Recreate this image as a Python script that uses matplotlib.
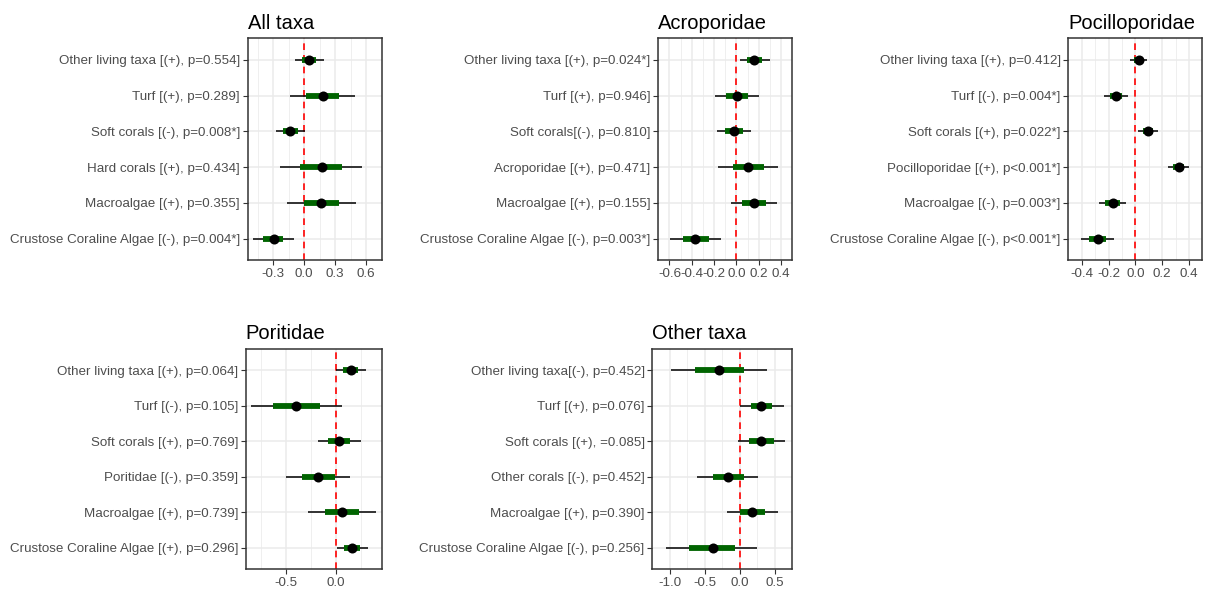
import matplotlib
matplotlib.use("Agg")
import matplotlib.pyplot as plt
import numpy as np

plt.rcParams['font.family'] = ['Liberation Sans', 'DejaVu Sans']

W, H = 1211, 592

# ---------------- data (rows listed top to bottom) ----------------
titles = ["All taxa", "Acroporidae", "Pocilloporidae", "Poritidae", "Other taxa"]

labels_all = ["Other living taxa [(+), p=0.554]", "Turf [(+), p=0.289]",
              "Soft corals [(-), p=0.008*]", "Hard corals [(+), p=0.434]",
              "Macroalgae [(+), p=0.355]", "Crustose Coraline Algae [(-), p=0.004*]"]
est_all = [0.051, 0.180, -0.134, 0.169, 0.166, -0.294]
lo50_all = [-0.023, 0.017, -0.200, -0.040, 0.000, -0.397]
hi50_all = [0.114, 0.337, -0.063, 0.366, 0.337, -0.200]
lo95_all = [-0.091, -0.137, -0.271, -0.231, -0.169, -0.491]
hi95_all = [0.189, 0.494, 0.006, 0.557, 0.503, -0.100]

labels_acro = ["Other living taxa [(+), p=0.024*]", "Turf [(+), p=0.946]",
               "Soft corals[(-), p=0.810]", "Acroporidae [(+), p=0.471]",
               "Macroalgae [(+), p=0.155]", "Crustose Coraline Algae [(-), p=0.003*]"]
est_acro = [0.159, 0.008, -0.026, 0.100, 0.159, -0.370]
lo50_acro = [0.098, -0.092, -0.100, -0.034, 0.053, -0.481]
hi50_acro = [0.225, 0.106, 0.058, 0.243, 0.264, -0.248]
lo95_acro = [0.034, -0.193, -0.177, -0.169, -0.048, -0.594]
hi95_acro = [0.296, 0.203, 0.132, 0.375, 0.365, -0.140]

labels_poci = ["Other living taxa [(+), p=0.412]", "Turf [(-), p=0.004*]",
               "Soft corals [(+), p=0.022*]", "Pocilloporidae [(+), p<0.001*]",
               "Macroalgae [(-), p=0.003*]", "Crustose Coraline Algae [(-), p<0.001*]"]
est_poci = [0.026, -0.143, 0.092, 0.323, -0.169, -0.281]
lo50_poci = [-0.011, -0.191, 0.055, 0.279, -0.224, -0.345]
hi50_poci = [0.059, -0.099, 0.132, 0.363, -0.116, -0.220]
lo95_poci = [-0.037, -0.235, 0.018, 0.242, -0.270, -0.407]
hi95_poci = [0.084, -0.055, 0.171, 0.402, -0.066, -0.158]

labels_pori = ["Other living taxa [(+), p=0.064]", "Turf [(-), p=0.105]",
               "Soft corals [(+), p=0.769]", "Poritidae [(-), p=0.359]",
               "Macroalgae [(+), p=0.739]", "Crustose Coraline Algae [(+), p=0.296]"]
est_pori = [0.147, -0.397, 0.033, -0.177, 0.057, 0.157]
lo50_pori = [0.073, -0.627, -0.077, -0.340, -0.110, 0.080]
hi50_pori = [0.223, -0.160, 0.140, -0.010, 0.230, 0.240]
lo95_pori = [0.000, -0.850, -0.177, -0.500, -0.277, 0.007]
hi95_pori = [0.297, 0.063, 0.247, 0.140, 0.397, 0.317]

labels_oth = ["Other living taxa[(-), p=0.452]", "Turf [(+), p=0.076]",
              "Soft corals [(+), =0.085]", "Other corals [(-), p=0.452]",
              "Macroalgae [(+), p=0.390]", "Crustose Coraline Algae [(-), p=0.256]"]
est_oth = [-0.301, 0.305, 0.305, -0.168, 0.173, -0.389]
lo50_oth = [-0.646, 0.155, 0.133, -0.389, 0.000, -0.730]
hi50_oth = [0.066, 0.465, 0.482, 0.053, 0.363, -0.066]
lo95_oth = [-0.987, -0.004, -0.022, -0.606, -0.186, -1.053]
hi95_oth = [0.394, 0.628, 0.642, 0.265, 0.540, 0.252]

xticks_all = [-0.3, 0.0, 0.3, 0.6]
xticks_acro = [-0.6, -0.4, -0.2, 0.0, 0.2, 0.4]
xticks_poci = [-0.4, -0.2, 0.0, 0.2, 0.4]
xticks_pori = [-0.5, 0.0]
xticks_oth = [-1.0, -0.5, 0.0, 0.5]

xlims = [(-0.545, 0.614), (-0.634, 0.428), (-0.44, 0.444), (-0.903, 0.463), (-1.133, 0.726)]
# axes boxes in pixels: left, right, top, bottom
boxes = [(247.7, 381.7, 38.3, 260.0), (658.3, 792.3, 38.3, 260.0), (1068.3, 1202.3, 38.3, 260.0),
         (245.7, 382.3, 349.0, 569.3), (652.3, 792.3, 349.0, 569.3)]

panels = [
    (labels_all, est_all, lo50_all, hi50_all, lo95_all, hi95_all, xticks_all),
    (labels_acro, est_acro, lo50_acro, hi50_acro, lo95_acro, hi95_acro, xticks_acro),
    (labels_poci, est_poci, lo50_poci, hi50_poci, lo95_poci, hi95_poci, xticks_poci),
    (labels_pori, est_pori, lo50_pori, hi50_pori, lo95_pori, hi95_pori, xticks_pori),
    (labels_oth, est_oth, lo50_oth, hi50_oth, lo95_oth, hi95_oth, xticks_oth),
]

fig = plt.figure(figsize=(W / 100, H / 100), dpi=100)
fig.patch.set_facecolor('white')

grid_col = '#EBEBEB'
for i, (labs, est, lo50, hi50, lo95, hi95, xt) in enumerate(panels):
    l, r, t, b = boxes[i]
    ax = fig.add_axes([l / W, 1 - b / H, (r - l) / W, (b - t) / H])
    n = len(labs)
    y = np.arange(n)[::-1]
    ax.set_xlim(*xlims[i])
    ax.set_ylim(-0.6, n - 0.4)
    ax.set_xticks(xt)
    ax.set_xticklabels([f"{v:.1f}" for v in xt])
    step = xt[1] - xt[0]
    minors = [v + step / 2 for v in [xt[0] - step] + list(xt)]
    ax.set_xticks(minors, minor=True)
    ax.set_yticks(y)
    ax.set_yticklabels(labs)
    ax.tick_params(axis='both', which='major', length=3.5, width=0.8, color='#333333',
                   labelcolor='#4D4D4D', labelsize=9.6, pad=2)
    ax.tick_params(axis='x', which='minor', length=0)
    ax.grid(True, which='major', color=grid_col, linewidth=1.1, zorder=0)
    ax.grid(True, which='minor', axis='x', color=grid_col, linewidth=0.55, zorder=0)
    ax.set_axisbelow(True)
    for sp in ax.spines.values():
        sp.set_color('#333333')
        sp.set_linewidth(1.1)
    ax.axvline(0, color='red', linestyle=(0, (4, 3)), linewidth=1.2, zorder=1)
    ax.hlines(y, lo95, hi95, color='black', linewidth=1.1, zorder=2)
    ax.hlines(y, lo50, hi50, color='#006400', linewidth=4.2, zorder=3)
    ax.scatter(est, y, s=52, color='black', zorder=4, linewidths=0)
    ax.set_title(titles[i], loc='left', fontsize=14.5, pad=7, color='black')

fig.savefig('out.png', dpi=100, facecolor='white')
